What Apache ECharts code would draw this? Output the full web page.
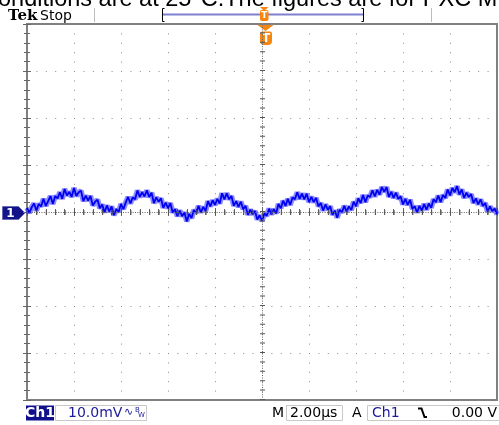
<!DOCTYPE html>
<html><head><meta charset="utf-8">
<script src="https://cdn.jsdelivr.net/npm/echarts@6/dist/echarts.min.js"></script>
<style>html,body{margin:0;padding:0;background:#fff}#c{width:499px;height:425px}</style>
</head><body><div id="c"></div><script>
// time in microseconds (2.00 µs/div, 10 divisions), one sample every 0.1 µs
const timeUs = [0,0.1,0.2,0.3,0.4,0.5,0.6,0.7,0.8,0.9,
 1.0,1.1,1.2,1.3,1.4,1.5,1.6,1.7,1.8,1.9,
 2.0,2.1,2.2,2.3,2.4,2.5,2.6,2.7,2.8,2.9,
 3.0,3.1,3.2,3.3,3.4,3.5,3.6,3.7,3.8,3.9,
 4.0,4.1,4.2,4.3,4.4,4.5,4.6,4.7,4.8,4.9,
 5.0,5.1,5.2,5.3,5.4,5.5,5.6,5.7,5.8,5.9,
 6.0,6.1,6.2,6.3,6.4,6.5,6.6,6.7,6.8,6.9,
 7.0,7.1,7.2,7.3,7.4,7.5,7.6,7.7,7.8,7.9,
 8.0,8.1,8.2,8.3,8.4,8.5,8.6,8.7,8.8,8.9,
 9.0,9.1,9.2,9.3,9.4,9.5,9.6,9.7,9.8,9.9,
 10.0,10.1,10.2,10.3,10.4,10.5,10.6,10.7,10.8,10.9,
 11.0,11.1,11.2,11.3,11.4,11.5,11.6,11.7,11.8,11.9,
 12.0,12.1,12.2,12.3,12.4,12.5,12.6,12.7,12.8,12.9,
 13.0,13.1,13.2,13.3,13.4,13.5,13.6,13.7,13.8,13.9,
 14.0,14.1,14.2,14.3,14.4,14.5,14.6,14.7,14.8,14.9,
 15.0,15.1,15.2,15.3,15.4,15.5,15.6,15.7,15.8,15.9,
 16.0,16.1,16.2,16.3,16.4,16.5,16.6,16.7,16.8,16.9,
 17.0,17.1,17.2,17.3,17.4,17.5,17.6,17.7,17.8,17.9,
 18.0,18.1,18.2,18.3,18.4,18.5,18.6,18.7,18.8,18.9,
 19.0,19.1,19.2,19.3,19.4,19.5,19.6,19.7,19.8,19.9,
 20.0];
// Ch1 voltage in mV (10.0 mV/div), noisy ripple
const ch1Mv = [0.9,-0.2,1.0,1.8,0.3,1.7,1.2,2.8,1.3,2.3,
 3.4,1.7,3.4,2.9,4.2,2.8,4.9,3.5,4.3,3.2,
 5.1,3.4,4.2,4.5,2.3,3.5,2.4,3.4,1.4,2.2,
 2.6,0.8,1.6,-0.1,1.4,0.1,1.2,-0.7,0.6,0.0,
 1.7,0.6,2.0,3.2,1.8,3.1,2.7,4.6,3.2,4.2,
 3.3,4.6,3.2,4.1,1.9,3.1,2.2,2.9,0.9,2.0,
 0.8,1.9,-0.1,0.6,-0.9,0.3,-0.9,-0.1,-2.0,-0.4,
 -1.3,0.4,-0.2,1.3,-0.1,1.1,0.2,2.3,1.2,2.5,
 1.5,2.8,1.8,4.0,2.7,4.0,2.7,3.4,1.3,2.3,
 1.1,2.2,0.6,1.3,-0.6,0.5,-0.5,0.2,-1.6,-0.7,
 -1.9,-0.3,-0.8,0.7,-0.5,0.6,-0.3,1.7,0.8,2.4,
 1.3,2.8,1.5,3.1,2.7,4.2,2.8,3.9,2.7,3.9,
 2.1,3.2,2.1,3.0,1.2,1.9,0.3,1.6,0.5,1.2,
 -0.6,0.3,-1.2,0.5,-0.1,1.3,0.1,1.2,0.4,2.2,
 1.2,2.9,1.9,3.6,2.1,3.5,3.2,4.6,3.3,4.7,
 3.7,5.3,4.3,5.3,3.2,4.3,3.0,4.1,2.8,3.3,
 1.6,2.8,1.5,2.6,0.7,1.2,-0.1,1.3,0.3,1.7,
 0.5,1.8,0.9,2.7,2.1,3.5,2.1,3.6,3.0,4.8,
 3.5,5.1,4.2,5.5,3.7,4.8,3.0,4.1,3.2,3.8,
 1.9,2.9,1.6,2.7,1.3,1.9,0.1,1.2,0.2,0.7,
 -0.5];
const xRange = [0, 20], xStep = 2;
const yRange = [-40, 40], yStep = 10;
const titleText = 'onditions are at 25°C.The figures are for PXC M';
const chLabel = 'Ch1', voltDiv = '10.0mV', timeDiv = '2.00µs', trigLevel = '0.00 V';

const data = timeUs.map((t, i) => [t, ch1Mv[i]]);
const chart = echarts.init(document.getElementById('c'), null, {renderer: 'canvas'});
const GL = 27, GT = 24, GW = 470, GH = 376;
const dot = 47 / 5;
const tickAxis = (extra) => Object.assign({
  type: 'value', axisLabel: {show: false},
  axisLine: {show: false},
  axisTick: {show: true, inside: true, length: 4, lineStyle: {color: '#666', width: 1}},
  minorTick: {show: true, splitNumber: 5, length: 3, lineStyle: {color: '#666', width: 1}},
  splitLine: {show: false}
}, extra);
const font = '"DejaVu Sans", sans-serif';
const orange = '#f7860f';
chart.setOption({
  animation: false,
  backgroundColor: '#fff',
  grid: {left: GL, top: GT, width: GW, height: GH, show: true, borderColor: '#808080', borderWidth: 2, backgroundColor: 'transparent'},
  xAxis: [
    tickAxis({min: xRange[0], max: xRange[1], interval: xStep, position: 'bottom',
      splitLine: {show: true, lineStyle: {color: '#8a8a8a', width: 1, type: [1, dot - 1]}}}),
    tickAxis({min: xRange[0], max: xRange[1], interval: xStep, position: 'top'})
  ],
  yAxis: [
    tickAxis({min: yRange[0], max: yRange[1], interval: yStep, position: 'left',
      splitLine: {show: true, lineStyle: {color: '#8a8a8a', width: 1, type: [1, dot - 1]}}}),
    tickAxis({min: yRange[0], max: yRange[1], interval: yStep, position: 'right'})
  ],
  series: [
    {type: 'line', data: [], silent: true,
      markLine: {silent: true, symbol: 'none', label: {show: false},
        lineStyle: {color: '#555', width: 5, type: [1, dot - 1]},
        data: [{yAxis: 0}, {xAxis: 10}]}},
    {type: 'line', data: [], silent: true,
      markLine: {silent: true, symbol: 'none', label: {show: false},
        lineStyle: {color: '#666', width: 1, type: [1, 1.4]},
        data: [{yAxis: 0}, {xAxis: 10}]}},
    {type: 'line', data: data, showSymbol: false, silent: true,
      lineStyle: {color: '#1a1aff', width: 5.5, opacity: 0.5}},
    {type: 'line', data: data, showSymbol: false, silent: true,
      lineStyle: {color: '#0000f0', width: 1.8}}
  ],
  graphic: [
    {type: 'text', x: -2, y: 12, style: {text: titleText, font: '23.5px "Liberation Sans", Arial, sans-serif', fill: '#000', verticalAlign: 'bottom'}},
    {type: 'text', x: 8, y: 9, style: {text: 'Tek', font: 'bold 15px "DejaVu Serif", serif', fill: '#000'}},
    {type: 'text', x: 40, y: 9, style: {text: 'Stop', font: '14px ' + font, fill: '#000'}},
    {type: 'line', shape: {x1: 94.5, y1: 8, x2: 94.5, y2: 22}, style: {stroke: '#bdbdbd', lineWidth: 1}},
    {type: 'line', shape: {x1: 431.5, y1: 8, x2: 431.5, y2: 22}, style: {stroke: '#bdbdbd', lineWidth: 1}},
    {type: 'line', shape: {x1: 162, y1: 14.5, x2: 363, y2: 14.5}, style: {stroke: '#7f7fcf', lineWidth: 2}},
    {type: 'polyline', shape: {points: [[164.5, 8.5], [162.5, 8.5], [162.5, 21.5], [164.5, 21.5]]}, style: {stroke: '#000', lineWidth: 1, fill: null}},
    {type: 'polyline', shape: {points: [[361.5, 8.5], [363.5, 8.5], [363.5, 21.5], [361.5, 21.5]]}, style: {stroke: '#000', lineWidth: 1, fill: null}},
    {type: 'polygon', shape: {points: [[260, 7], [268.5, 7], [264.2, 11]]}, style: {fill: orange}},
    {type: 'rect', shape: {x: 260, y: 10, width: 8.5, height: 11, r: 2}, style: {fill: orange}},
    {type: 'text', x: 264.2, y: 15.5, style: {text: 'T', font: 'bold 9px ' + font, fill: '#fff', align: 'center', verticalAlign: 'middle'}},
    {type: 'polygon', shape: {points: [[257.5, 25], [273.5, 25], [265.5, 31]]}, style: {fill: orange}},
    {type: 'rect', shape: {x: 260, y: 31.5, width: 12, height: 13.5, r: [2, 2, 4, 4]}, style: {fill: orange}},
    {type: 'text', x: 266, y: 38.5, style: {text: 'T', font: 'bold 12px ' + font, fill: '#fff', align: 'center', verticalAlign: 'middle'}},
    {type: 'polygon', shape: {points: [[2.5, 206.5], [18.5, 206.5], [25, 213], [18.5, 219.5], [2.5, 219.5]]}, style: {fill: '#14148a', stroke: '#6a6ab8', lineWidth: 1}},
    {type: 'text', x: 10.5, y: 213.5, style: {text: '1', font: 'bold 12px ' + font, fill: '#fff', align: 'center', verticalAlign: 'middle'}},
    {type: 'rect', shape: {x: 26, y: 405.5, width: 28, height: 15}, style: {fill: '#10108c'}},
    {type: 'text', x: 40, y: 413.5, style: {text: chLabel, font: 'bold 14px ' + font, fill: '#fff', align: 'center', verticalAlign: 'middle'}},
    {type: 'rect', shape: {x: 55.5, y: 405.5, width: 91, height: 15}, style: {fill: null, stroke: '#c8c8c8', lineWidth: 1}},
    {type: 'text', x: 68, y: 413.5, style: {text: voltDiv, font: '14px ' + font, fill: '#1a1a9a', verticalAlign: 'middle'}},
    {type: 'text', x: 124, y: 412, style: {text: '∿', font: '11px ' + font, fill: '#1a1a9a', verticalAlign: 'middle'}},
    {type: 'text', x: 135, y: 410, style: {text: 'B', font: '7px ' + font, fill: '#1a1a9a', verticalAlign: 'middle'}},
    {type: 'text', x: 138, y: 415, style: {text: 'W', font: '7px ' + font, fill: '#1a1a9a', verticalAlign: 'middle'}},
    {type: 'text', x: 272, y: 413.5, style: {text: 'M', font: '14px ' + font, fill: '#000', verticalAlign: 'middle'}},
    {type: 'rect', shape: {x: 286.5, y: 405.5, width: 56, height: 15}, style: {fill: null, stroke: '#c8c8c8', lineWidth: 1}},
    {type: 'text', x: 290, y: 413.5, style: {text: timeDiv, font: '14px ' + font, fill: '#000', verticalAlign: 'middle'}},
    {type: 'text', x: 352, y: 413.5, style: {text: 'A', font: '14px ' + font, fill: '#000', verticalAlign: 'middle'}},
    {type: 'polyline', shape: {points: [[367.5, 405.5], [367.5, 420.5], [499, 420.5]]}, style: {fill: null, stroke: '#c8c8c8', lineWidth: 1}},
    {type: 'line', shape: {x1: 367.5, y1: 405.5, x2: 499, y2: 405.5}, style: {stroke: '#c8c8c8', lineWidth: 1}},
    {type: 'text', x: 372, y: 413.5, style: {text: chLabel, font: '14px ' + font, fill: '#1a1a9a', verticalAlign: 'middle'}},
    {type: 'polyline', shape: {points: [[418, 408.5], [421.5, 408.5], [424.5, 417], [427, 417]]}, style: {fill: null, stroke: '#000', lineWidth: 2}},
    {type: 'text', x: 497, y: 413.5, style: {text: trigLevel, font: '14px ' + font, fill: '#000', align: 'right', verticalAlign: 'middle'}}
  ]
});
</script></body></html>
